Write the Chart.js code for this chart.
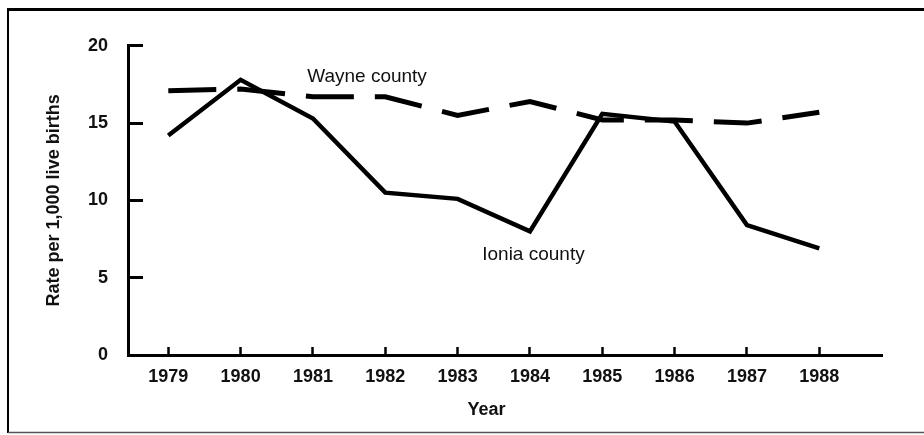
<!DOCTYPE html>
<html>
<head>
<meta charset="utf-8">
<script src="https://cdn.jsdelivr.net/npm/chart.js@4.4.1/dist/chart.umd.min.js"></script>
<style>
  html, body { margin: 0; padding: 0; background: #fff; }
  #wrap { width: 924px; height: 435px; position: relative; }
</style>
</head>
<body>
<div id="wrap"><canvas id="c" width="924" height="435"></canvas></div>
<script>
// ---- data ----
const years = [1979, 1980, 1981, 1982, 1983, 1984, 1985, 1986, 1987, 1988];
const ioniaCounty = [14.2, 17.8, 15.3, 10.5, 10.1, 8.0, 15.6, 15.1, 8.4, 6.9];
const wayneCounty = [17.1, 17.2, 16.7, 16.7, 15.5, 16.4, 15.2, 15.2, 15.0, 15.7];
const yTicks = [0, 5, 10, 15, 20];
const seriesNames = ['Wayne county', 'Ionia county'];
const yTitle = 'Rate per 1,000 live births';
const xTitle = 'Year';
// label anchors in data units (year, rate)
const wayneLabelAt = [1980.92, 17.65];
const ioniaLabelAt = [1983.34, 6.15];
const xTitleAt = 1983.4;

const FONT = '"Liberation Sans", Arial, Helvetica, sans-serif';

const framePlugin = {
  id: 'framePlugin',
  beforeDraw(chart) {
    const c = chart.ctx;
    c.save();
    c.fillStyle = '#fff';
    c.fillRect(0, 0, chart.width, chart.height);
    c.strokeStyle = '#000';
    c.lineWidth = 3;
    c.beginPath(); c.moveTo(7, 9.5); c.lineTo(chart.width, 9.5); c.stroke();
    c.lineWidth = 2;
    c.beginPath(); c.moveTo(8, 9); c.lineTo(8, 433); c.stroke();
    c.lineWidth = 1.5;
    c.strokeStyle = '#555';
    c.beginPath(); c.moveTo(8, 432.5); c.lineTo(chart.width, 432.5); c.stroke();
    c.restore();
  },
  afterDraw(chart) {
    const c = chart.ctx;
    const xs = chart.scales.x, ys = chart.scales.y;
    c.save();
    c.fillStyle = '#111';
    c.textBaseline = 'alphabetic';
    c.textAlign = 'left';
    c.font = '19px ' + FONT;
    c.fillText(seriesNames[0], xs.getPixelForValue(wayneLabelAt[0]), ys.getPixelForValue(wayneLabelAt[1]));
    c.fillText(seriesNames[1], xs.getPixelForValue(ioniaLabelAt[0]), ys.getPixelForValue(ioniaLabelAt[1]));
    c.font = 'bold 18px ' + FONT;
    c.textAlign = 'center';
    c.textBaseline = 'middle';
    c.fillText(xTitle, xs.getPixelForValue(xTitleAt), 410);
    c.restore();
  }
};

new Chart(document.getElementById('c'), {
  type: 'line',
  data: {
    datasets: [
      {
        label: seriesNames[0],
        data: years.map((y, i) => ({ x: y, y: wayneCounty[i] })),
        borderColor: '#000',
        borderWidth: 5,
        borderDash: [48, 21],
        borderCapStyle: 'butt',
        pointRadius: 0,
        tension: 0,
        fill: false
      },
      {
        label: seriesNames[1],
        data: years.map((y, i) => ({ x: y, y: ioniaCounty[i] })),
        borderColor: '#000',
        borderWidth: 4.5,
        borderJoinStyle: 'miter',
        pointRadius: 0,
        tension: 0,
        fill: false
      }
    ]
  },
  options: {
    responsive: false,
    animation: false,
    devicePixelRatio: 1,
    layout: { padding: { top: 43, right: 42, left: 0, bottom: 0 } },
    plugins: {
      legend: { display: false },
      tooltip: { enabled: false },
      title: { display: false }
    },
    scales: {
      x: {
        type: 'linear',
        position: 'bottom',
        min: 1978.443,
        max: 1988.867,
        afterBuildTicks(scale) { scale.ticks = years.map(v => ({ value: v })); },
        afterFit(scale) { scale.height = 80; },
        border: { display: true, color: '#000', width: 3 },
        grid: {
          display: true,
          drawOnChartArea: false,
          drawTicks: true,
          tickLength: -8,
          tickWidth: 2.5,
          tickColor: '#000'
        },
        ticks: {
          autoSkip: false,
          maxRotation: 0,
          padding: 19,
          color: '#111',
          font: { family: FONT, size: 18, weight: 'bold' },
          callback: (v) => String(v)
        }
      },
      y: {
        type: 'linear',
        position: 'left',
        min: 0,
        max: 20,
        afterBuildTicks(scale) { scale.ticks = yTicks.map(v => ({ value: v })); },
        afterFit(scale) { scale.width = 128; },
        border: { display: true, color: '#000', width: 3 },
        grid: {
          display: true,
          drawOnChartArea: false,
          drawTicks: true,
          tickLength: -15,
          tickWidth: 3,
          tickColor: '#000'
        },
        ticks: {
          padding: 35,
          color: '#111',
          font: { family: FONT, size: 18, weight: 'bold' },
          callback: (v) => String(v)
        },
        title: {
          display: true,
          text: yTitle,
          color: '#111',
          font: { family: FONT, size: 18, weight: 'bold' },
          padding: { top: 43, bottom: 0 }
        }
      }
    }
  },
  plugins: [framePlugin]
});
</script>
</body>
</html>
